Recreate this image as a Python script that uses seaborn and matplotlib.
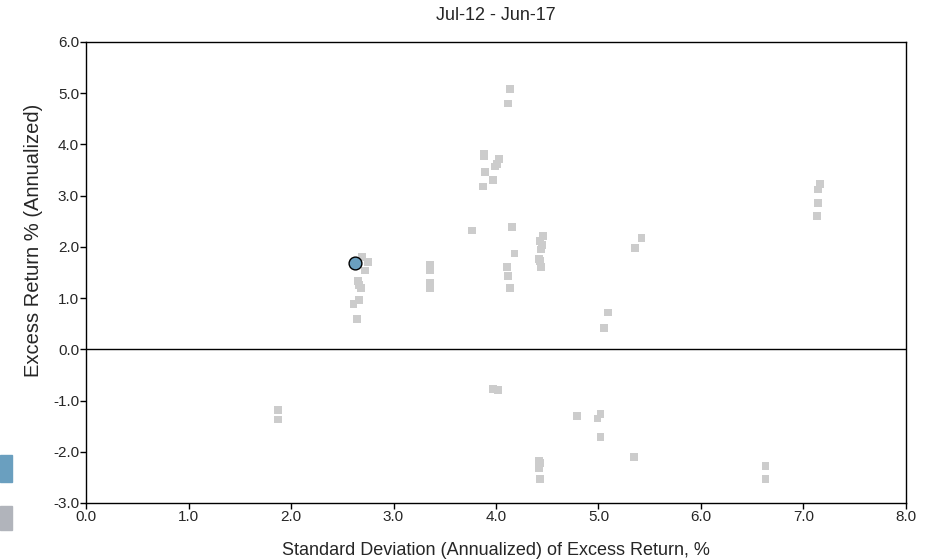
import pandas as pd
import seaborn as sns
import matplotlib.pyplot as plt
from matplotlib.patches import Rectangle

# peer universe (grey squares)
peer_sd = [1.87, 1.87,
           2.69, 2.75, 2.72, 2.65, 2.66, 2.68, 2.66, 2.61, 2.64,
           3.36, 3.36, 3.36, 3.36,
           3.77, 3.87, 3.88, 3.88, 3.89, 3.97, 3.99, 4.01, 4.03, 4.12, 4.14,
           4.16, 4.18, 4.11, 4.12, 4.14,
           4.46, 4.43, 4.45, 4.44, 4.42, 4.43, 4.44,
           5.42, 5.36, 5.09, 5.05,
           7.16, 7.14, 7.14, 7.13,
           3.97, 4.02, 4.42, 4.43, 4.42, 4.43,
           4.79, 5.02, 4.99, 5.02, 5.35, 6.63, 6.63]
peer_ret = [-1.19, -1.37,
            1.80, 1.70, 1.54, 1.33, 1.25, 1.19, 0.96, 0.89, 0.60,
            1.65, 1.55, 1.29, 1.19,
            2.32, 3.18, 3.82, 3.78, 3.46, 3.30, 3.57, 3.62, 3.72, 4.80, 5.08,
            2.39, 1.87, 1.61, 1.43, 1.19,
            2.22, 2.12, 2.04, 1.95, 1.77, 1.72, 1.61,
            2.17, 1.97, 0.72, 0.41,
            3.23, 3.12, 2.86, 2.60,
            -0.77, -0.80, -2.17, -2.22, -2.31, -2.53,
            -1.30, -1.26, -1.35, -1.72, -2.11, -2.28, -2.54]

# the fund (blue circle)
fund_sd = [2.62]
fund_ret = [1.68]

title = "Jul-12 - Jun-17"
xticks = [0, 1, 2, 3, 4, 5, 6, 7, 8]
yticks = [-3, -2, -1, 0, 1, 2, 3, 4, 5, 6]

peers = pd.DataFrame({"sd": peer_sd, "ret": peer_ret})
fund = pd.DataFrame({"sd": fund_sd, "ret": fund_ret})

sns.set_style("white")
plt.rcParams["font.family"] = ["Liberation Sans", "DejaVu Sans"]
plt.rcParams["axes.unicode_minus"] = False

fig = plt.figure(figsize=(9.37, 5.59), dpi=100)
ax = fig.add_axes([0.0918, 0.1002, 0.8751, 0.8247])

sns.scatterplot(data=peers, x="sd", y="ret", marker="s", s=32, color="#cccccc",
                edgecolor="none", ax=ax, zorder=2)
sns.scatterplot(data=fund, x="sd", y="ret", marker="o", s=85, color="#6a9fbf",
                edgecolor="black", linewidth=1, ax=ax, zorder=3)

ax.axhline(0, color="black", lw=1, zorder=1)
ax.set_xlim(0, 8)
ax.set_ylim(-3, 6)
ax.set_xticks(xticks)
ax.set_yticks(yticks)
ax.set_xticklabels([f"{v:.1f}" for v in xticks], fontsize=11)
ax.set_yticklabels([f"{v:.1f}" for v in yticks], fontsize=11)
ax.tick_params(direction="out", length=4, width=1, color="black", pad=1,
               bottom=True, left=True)
for sp in ax.spines.values():
    sp.set_color("black")
    sp.set_linewidth(1)

ax.set_title(title, fontsize=13, pad=16)
ax.set_xlabel("Standard Deviation (Annualized) of Excess Return, %", fontsize=13, labelpad=13)
ax.set_ylabel("Excess Return % (Annualized)", fontsize=14.5)
ax.yaxis.set_label_coords(-0.052, 0.57)

# clipped legend swatches at the left edge
W, H = 937, 559
fig.patches.append(Rectangle((0, 1 - 482 / H), 12 / W, 27 / H, transform=fig.transFigure,
                             color="#6a9fbf", zorder=0))
fig.patches.append(Rectangle((0, 1 - 530 / H), 12 / W, 24 / H, transform=fig.transFigure,
                             color="#b1b4bb", zorder=0))

fig.savefig("out.png", dpi=100)
